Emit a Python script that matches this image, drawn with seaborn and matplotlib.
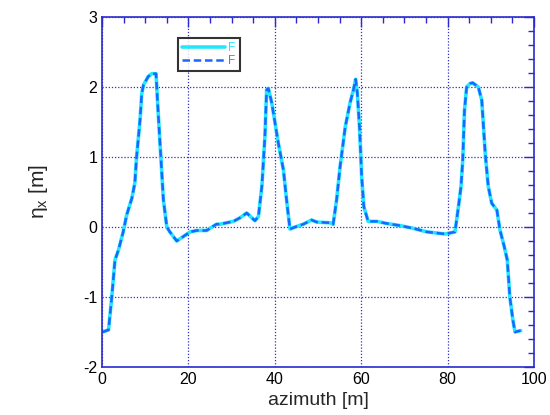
import matplotlib
matplotlib.use("Agg")
import matplotlib.pyplot as plt
import seaborn as sns
import pandas as pd
from matplotlib.ticker import MultipleLocator

azimuth = [0.15, 1.5, 2.2, 3.0, 3.8, 4.9, 5.7, 6.9, 7.6, 8.0, 8.8, 9.2, 9.6, 10.7, 11.5, 12.5,
           13.0, 13.4, 13.8, 14.2, 15.0, 15.7, 17.3, 20.4, 21.9, 24.2, 26.5, 27.3, 30.4, 31.9,
           33.5, 35.4, 36.2, 37.0, 37.7, 38.1, 38.5, 39.3, 40.8, 42.0, 42.8, 43.5, 44.7, 46.6,
           48.5, 49.7, 52.8, 53.5, 54.3, 55.1, 56.3, 57.4, 58.2, 58.7, 59.1, 59.6, 60.1, 60.6,
           61.6, 63.6, 65.9, 69.0, 72.1, 75.2, 79.4, 81.7, 82.5, 83.1, 83.5, 83.9, 84.4, 85.2,
           85.8, 87.1, 87.9, 88.7, 89.4, 90.2, 91.4, 92.1, 93.1, 93.8, 94.4, 95.1, 95.6, 96.9]
eta_x = [-1.50, -1.47, -1.04, -0.47, -0.33, -0.07, 0.17, 0.41, 0.63, 1.00, 1.53, 1.91, 2.03, 2.15,
         2.19, 2.19, 1.63, 1.22, 0.81, 0.39, 0.00, -0.07, -0.20, -0.07, -0.05, -0.05, 0.04, 0.04,
         0.08, 0.13, 0.20, 0.09, 0.15, 0.58, 1.29, 1.96, 1.98, 1.77, 1.20, 0.81, 0.34, -0.03,
         0.00, 0.04, 0.10, 0.07, 0.06, 0.04, 0.39, 0.86, 1.43, 1.77, 1.96, 2.11, 1.91, 1.43,
         0.72, 0.29, 0.08, 0.08, 0.05, 0.02, -0.02, -0.07, -0.10, -0.07, 0.29, 0.58, 0.96, 1.67,
         2.00, 2.05, 2.06, 2.00, 1.81, 1.05, 0.58, 0.34, 0.24, -0.04, -0.28, -0.47, -1.00, -1.33,
         -1.50, -1.48]

df = pd.DataFrame({"azimuth": azimuth, "eta_x": eta_x})

sns.set_style("white")
plt.rcParams['font.family'] = ['Liberation Sans', 'DejaVu Sans']
plt.rcParams['axes.unicode_minus'] = False

axis_col = "#2a2ad0"
fig = plt.figure(figsize=(5.5, 4.15), dpi=100)
ax = fig.add_axes([0.1855, 0.1157, 0.7855, 0.8433])

sns.lineplot(data=df, x="azimuth", y="eta_x", ax=ax, color="#22e8ff", lw=2.6,
             label="F", sort=False)
sns.lineplot(data=df, x="azimuth", y="eta_x", ax=ax, color="#1a66ff", lw=1.8,
             linestyle=(0, (3, 1.5)), label="F", sort=False)

ax.set_xlim(0, 100)
ax.set_ylim(-2, 3)
ax.xaxis.set_major_locator(MultipleLocator(20))
ax.xaxis.set_minor_locator(MultipleLocator(5))
ax.yaxis.set_major_locator(MultipleLocator(1))
ax.yaxis.set_minor_locator(MultipleLocator(0.2))
ax.grid(True, which="major", color="#3030c0", linestyle=(0, (1, 1.5)), lw=0.9)
ax.tick_params(which="both", direction="in", top=True, right=True, colors=axis_col,
               labelcolor="black", labelsize=11.5)
ax.tick_params(which="major", length=7, width=1)
ax.tick_params(which="minor", length=4, width=1)
for s in ax.spines.values():
    s.set_color(axis_col)
    s.set_linewidth(1.2)

ax.set_xlabel("azimuth [m]", fontsize=14)
ax.set_ylabel("η$_\\mathregular{x}$ [m]", fontsize=15, labelpad=24)

leg = ax.legend(loc="upper left", bbox_to_anchor=(0.176, 0.94), frameon=True,
                fancybox=False, edgecolor="black", fontsize=8.5, handlelength=3.6,
                borderpad=0.35, labelspacing=0.05, handletextpad=0.3, borderaxespad=0)
leg.get_frame().set_linewidth(1.5)
for t, c in zip(leg.get_texts(), ["#22e8ff", "#5577ff"]):
    t.set_color(c)

fig.savefig("out.png", dpi=100, facecolor="white")
